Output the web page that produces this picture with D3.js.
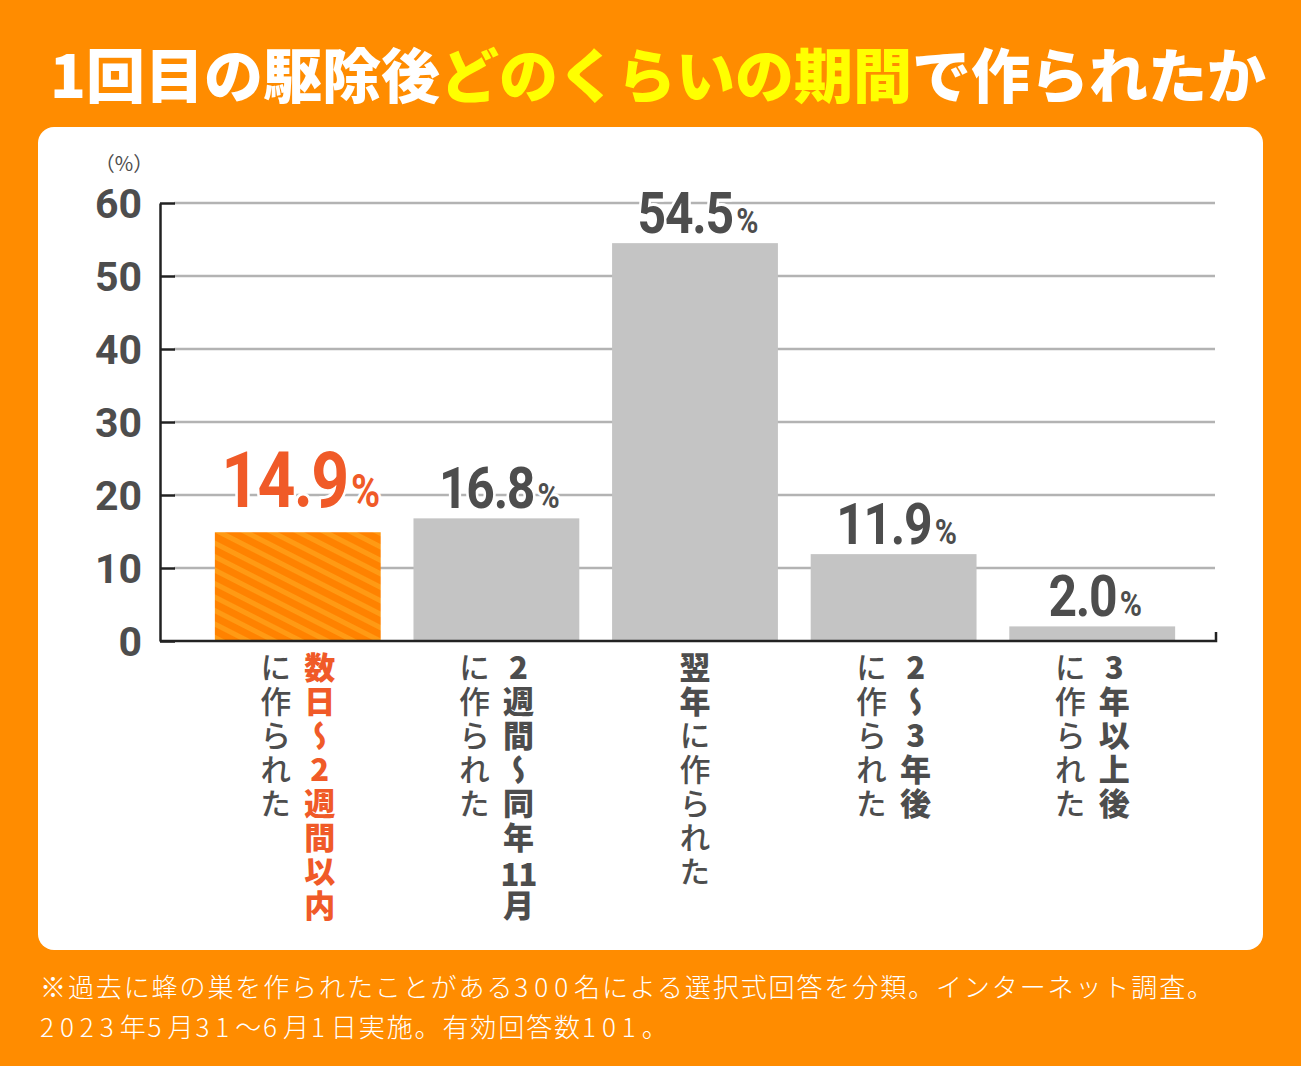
<!DOCTYPE html>
<html><head><meta charset="utf-8">
<script src="https://cdn.jsdelivr.net/npm/d3@7/dist/d3.min.js"></script>
<style>
html,body{margin:0;padding:0;background:#FF8C00;}
svg{display:block;}
</style></head>
<body>
<svg id="chart" width="1301" height="1066"></svg>
<script>
// ---- data ----
const categoriesMain = ["数日～2週間以内", "2週間～同年11月", "翌年", "2～3年後", "3年以上後"];
const categoriesSub  = ["に作られた", "に作られた", "に作られた", "に作られた", "に作られた"];
const values = [14.9, 16.8, 54.5, 11.9, 2.0];
const highlight = [true, false, false, false, false];
const yTicks = [0, 10, 20, 30, 40, 50, 60];
const titleParts = [
  {t: "1回目の駆除後", c: "#FFFFFF"},
  {t: "どのくらいの期間", c: "#FFFF00"},
  {t: "で作られたか", c: "#FFFFFF"}
];
const notes = [
  "※過去に蜂の巣を作られたことがある300名による選択式回答を分類。インターネット調査。",
  "2023年5月31～6月1日実施。有効回答数101。"
];

// ---- setup ----
const svg = d3.select("#chart");
const ORANGE = "#FF8C00", RED = "#F05A28", DARK = "#4D4D4D", GREY = "#C4C4C4", GRID = "#B3B3B3";
const CJK = "'Noto Sans CJK JP', 'Noto Sans', sans-serif";
const NUM = "Roboto, 'DejaVu Sans', sans-serif";

svg.append("rect").attr("width", 1301).attr("height", 1066).attr("fill", ORANGE);
svg.append("rect").attr("x", 38).attr("y", 127).attr("width", 1225).attr("height", 823)
  .attr("rx", 16).attr("fill", "#FFFFFF");

// defs: hatch pattern
const defs = svg.append("defs");
const pat = defs.append("pattern").attr("id", "hatch").attr("patternUnits", "userSpaceOnUse")
  .attr("width", 12).attr("height", 12).attr("patternTransform", "rotate(27)");
pat.append("rect").attr("width", 12).attr("height", 12).attr("fill", "#FF8200");
pat.append("rect").attr("y", 0).attr("width", 12).attr("height", 5).attr("fill", "#FF9A14");

// title
const title = svg.append("text").attr("x", 658).attr("y", 98).attr("text-anchor", "middle")
  .attr("font-family", CJK).attr("font-weight", 900).attr("font-size", 59);
title.selectAll("tspan").data(titleParts).join("tspan").attr("fill", d => d.c).text(d => d.t);

// scales
const y = d3.scaleLinear().domain([0, 60]).range([641, 203]);
const x = d3.scaleBand().domain(d3.range(values.length)).range([195, 1195])
  .paddingInner(0.165).paddingOuter(0.1);

// gridlines
svg.append("g").selectAll("line").data(yTicks.filter(t => t > 0)).join("line")
  .attr("x1", 174).attr("x2", 1215).attr("y1", d => y(d)).attr("y2", d => y(d))
  .attr("stroke", GRID).attr("stroke-width", 2.5);

// y axis
const yAxis = svg.append("g").attr("transform", "translate(160,0)")
  .call(d3.axisLeft(y).tickValues(yTicks).tickSize(-15).tickPadding(18).tickSizeOuter(0));
yAxis.select(".domain").attr("stroke", "#222").attr("stroke-width", 2.5);
yAxis.selectAll(".tick line").attr("stroke", "#222").attr("stroke-width", 2.5);
yAxis.selectAll(".tick text").attr("fill", DARK).attr("font-family", NUM)
  .attr("font-weight", 700).attr("font-size", 41).attr("dy", "0.36em");

svg.append("text").attr("x", 124).attr("y", 171).attr("text-anchor", "middle")
  .attr("fill", DARK).attr("font-family", CJK).attr("font-size", 20).text("（%）");

// bars
svg.append("g").selectAll("rect").data(values).join("rect")
  .attr("x", (d, i) => x(i)).attr("width", x.bandwidth())
  .attr("y", d => y(d)).attr("height", d => y(0) - y(d))
  .attr("fill", (d, i) => highlight[i] ? "url(#hatch)" : GREY);

// x axis line
svg.append("path").attr("d", `M160,${y(0)}H1216V${y(0) - 9}`)
  .attr("fill", "none").attr("stroke", "#222").attr("stroke-width", 2.5);

// value labels
const vg = svg.append("g").selectAll("g").data(values).join("g")
  .attr("transform", (d, i) =>
    `translate(${x(i) + x.bandwidth() / 2 + 3},${y(d) - (highlight[i] ? 25 : 10)}) scale(0.86,1)`);
const vl = vg.append("text").attr("x", 0).attr("y", 0)
  .attr("text-anchor", "middle").attr("font-family", NUM).attr("font-weight", 700)
  .attr("fill", (d, i) => highlight[i] ? RED : DARK)
  .attr("stroke", "#FFFFFF").attr("stroke-width", 6).attr("paint-order", "stroke")
  .attr("stroke-linejoin", "round");
vl.append("tspan").attr("font-size", (d, i) => highlight[i] ? 77 : 58)
  .attr("letter-spacing", (d, i) => highlight[i] ? -2 : -1.5)
  .text(d => d.toFixed(1));
vl.append("tspan").attr("font-size", (d, i) => highlight[i] ? 46 : 35).attr("dx", 4).text("%");

// category labels: vertical columns; multi-digit runs set horizontally in one cell
const PITCH = 34, TOP = 652, FS = 31;
function column(g, str, cx, startIdx, weight, color) {
  const segs = str.match(/\d{2,}|[^\d]+|\d/g);
  let idx = startIdx;
  let buf = "";
  const flush = () => {
    if (!buf) return;
    g.append("text").attr("x", cx).attr("y", TOP + (idx - [...buf].length) * PITCH)
      .attr("font-family", CJK).attr("font-size", FS).attr("letter-spacing", PITCH - FS)
      .attr("font-weight", weight).attr("fill", color)
      .style("writing-mode", "vertical-rl").style("text-orientation", "upright")
      .text(buf);
    buf = "";
  };
  segs.forEach(s => {
    if (/^\d{2,}$/.test(s)) {
      flush();
      g.append("text").attr("x", cx).attr("y", TOP + idx * PITCH + PITCH / 2 - 1)
        .attr("text-anchor", "middle").attr("dominant-baseline", "central")
        .attr("font-family", CJK).attr("font-size", FS).attr("letter-spacing", -1)
        .attr("font-weight", weight).attr("fill", color).text(s);
      idx += 1;
    } else {
      buf += s;
      idx += [...s].length;
    }
  });
  flush();
  return idx;
}
const cat = svg.append("g").selectAll("g").data(values).join("g")
  .attr("transform", (d, i) => `translate(${x(i) + x.bandwidth() / 2},0)`);
cat.each(function(d, i) {
  const g = d3.select(this);
  if (i === 2) {
    const n = column(g, categoriesMain[i], 0, 0, 900, DARK);
    column(g, categoriesSub[i], 0, n, 500, DARK);
  } else {
    column(g, categoriesMain[i], 22, 0, 900, highlight[i] ? RED : DARK);
    column(g, categoriesSub[i], -22, 0, 500, DARK);
  }
});

// footnotes (digits spaced wider as in the original)
const nt = svg.append("g").selectAll("text").data(notes).join("text")
  .attr("x", 40).attr("y", (d, i) => 997 + i * 40)
  .attr("fill", "#FFFFFF").attr("font-family", CJK).attr("font-weight", 300)
  .attr("font-size", 26);
nt.selectAll("tspan").data(d => d.match(/\d+|\D+/g)).join("tspan")
  .attr("letter-spacing", s => /\d/.test(s) ? 6 : 1.9).text(s => s);
</script>
</body></html>
